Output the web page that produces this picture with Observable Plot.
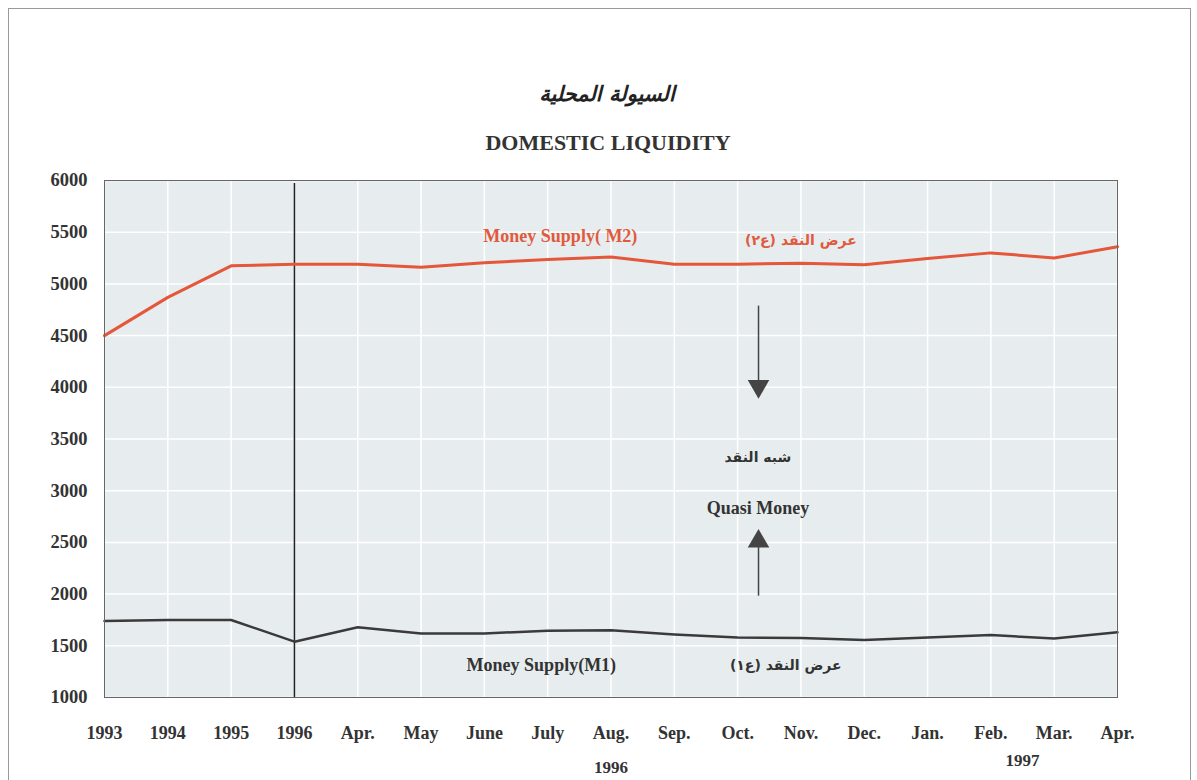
<!DOCTYPE html>
<html>
<head>
<meta charset="utf-8">
<script src="https://cdn.jsdelivr.net/npm/d3@7"></script>
<script src="https://cdn.jsdelivr.net/npm/@observablehq/plot@0.6"></script>
<style>
  html, body { margin: 0; padding: 0; background: #fff; }
  #page { position: relative; width: 1197px; height: 780px; overflow: hidden; }
  #border { position: absolute; left: 8px; top: 8px; width: 1181px; height: 800px; border: 1px solid #9a9a9a; }
  #head { position: relative; height: 165px; }
  #ar-title { position: absolute; left: 0; width: 1214px; top: 82px; text-align: center;
    font-family: "DejaVu Sans", sans-serif; font-style: italic; font-weight: bold; font-size: 21px; color: #222; direction: rtl; }
  #en-title { position: absolute; left: 0; width: 1216px; top: 130px; text-align: center;
    font-family: "Liberation Serif", serif; font-weight: bold; font-size: 22px; color: #333; }
  #chart { position: relative; }
</style>
</head>
<body>
<div id="page">
  <div id="border"></div>
  <div id="head">
    <div id="ar-title">السيولة المحلية</div>
    <div id="en-title">DOMESTIC LIQUIDITY</div>
  </div>
  <div id="chart"></div>
</div>
<script>
const categories = ["1993","1994","1995","1996","Apr.","May","June","July","Aug.","Sep.","Oct.","Nov.","Dec.","Jan.","Feb.","Mar.","Apr."];
const m2Values = [4500, 4870, 5175, 5190, 5190, 5160, 5205, 5235, 5260, 5190, 5190, 5200, 5185, 5245, 5300, 5250, 5360];
const m1Values = [1740, 1750, 1750, 1540, 1680, 1620, 1620, 1645, 1650, 1610, 1580, 1575, 1555, 1580, 1605, 1570, 1630];
const yTicks = [1000, 1500, 2000, 2500, 3000, 3500, 4000, 4500, 5000, 5500, 6000];
const dividerAt = [3];
const yearLabels = [{text: "1996", at: 8, dy: 75}, {text: "1997", at: 14.5, dy: 68}];
const labels = [
  {text: "Money Supply( M2)", x: 7.2, y: 5460, color: "#e05a3e", font: "Liberation Serif", size: 18},
  {text: "عرض النقد (ع٢)\u200F", x: 11.0, y: 5420, color: "#e05a3e", font: "DejaVu Sans", size: 14},
  {text: "Money Supply(M1)", x: 6.9, y: 1310, color: "#333", font: "Liberation Serif", size: 18},
  {text: "عرض النقد (ع١)\u200F", x: 10.76, y: 1310, color: "#333", font: "DejaVu Sans", size: 14},
  {text: "شبه النقد", x: 10.32, y: 3320, color: "#333", font: "DejaVu Sans", size: 14},
  {text: "Quasi Money", x: 10.32, y: 2830, color: "#333", font: "Liberation Serif", size: 18}
];
const arrowShafts = [{x: 10.33, y1: 4790, y2: 4060}, {x: 10.33, y1: 1985, y2: 2460}];
const arrowHeads = [{x: 10.33, y: 4010, rotate: 180}, {x: 10.33, y: 2510, rotate: 0}];

const data = categories.map((c, i) => ({i, label: c, m1: m1Values[i], m2: m2Values[i]}));
const idx = d3.range(categories.length);

const textMarks = labels.map(l => Plot.text([l], {
  x: "x", y: "y", text: "text", fill: l.color, fontFamily: l.font, fontSize: l.size, fontWeight: "bold"
}));
const yearMarks = yearLabels.map(l => Plot.text([l], {
  x: "at", text: "text", frameAnchor: "bottom", dy: l.dy, fill: "#333", fontSize: 17
}));

const chart = Plot.plot({
  width: 1197,
  height: 615,
  marginTop: 15,
  marginLeft: 104,
  marginRight: 80,
  marginBottom: 83,
  style: {fontFamily: "Liberation Serif", fontWeight: "bold", fontSize: "17px", color: "#333", background: "transparent", overflow: "visible"},
  x: {type: "linear", domain: [0, categories.length - 1], label: null},
  y: {domain: [1000, 6000], label: null},
  marks: [
    Plot.frame({fill: "#e7edee"}),
    Plot.gridY(yTicks, {stroke: "#ffffff", strokeOpacity: 1, strokeWidth: 1.5}),
    Plot.gridX(idx, {stroke: "#ffffff", strokeOpacity: 1, strokeWidth: 1.5}),
    Plot.axisX(idx, {tickSize: 0, tickPadding: 29, tickFormat: i => categories[i], label: null, fontSize: 18}),
    Plot.axisY(yTicks, {tickSize: 0, tickPadding: 17, tickFormat: d => String(d), label: null, fontSize: 18.5}),
    Plot.ruleX(dividerAt, {y1: 5970, y2: 1000, stroke: "#222", strokeWidth: 1.5}),
    Plot.line(data, {x: "i", y: "m2", stroke: "#e4573a", strokeWidth: 3}),
    Plot.line(data, {x: "i", y: "m1", stroke: "#3a3a3a", strokeWidth: 2.5}),
    Plot.frame({stroke: "#666", strokeWidth: 1}),
    ...textMarks,
    Plot.link(arrowShafts, {x1: "x", x2: "x", y1: "y1", y2: "y2", stroke: "#444", strokeWidth: 1.5}),
    Plot.dot(arrowHeads, {x: "x", y: "y", symbol: "triangle", r: 8, fill: "#444", stroke: "none", rotate: "rotate"}),
    ...yearMarks
  ]
});
document.getElementById("chart").appendChild(chart);
</script>
</body>
</html>
